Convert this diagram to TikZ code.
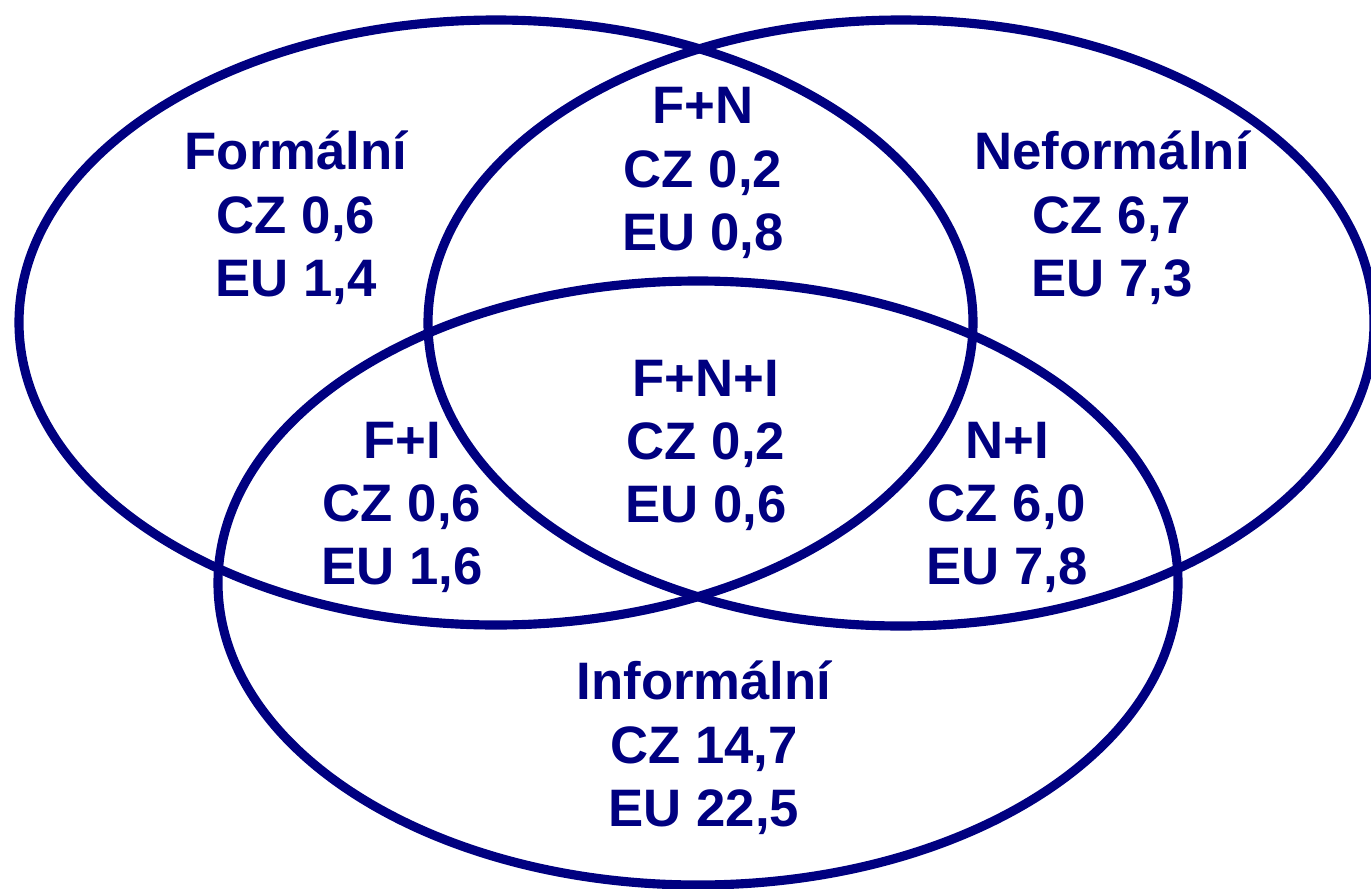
\documentclass[tikz,border=0pt]{standalone}
\usepackage{fontspec}
\setmainfont{Liberation Sans}
\usepackage{tikz}
\definecolor{setnavy}{RGB}{0,0,128}
\tikzset{
  setring/.style={draw=setnavy,line width=2.6pt},
  setlabel/.style={text=setnavy,align=center,inner sep=0pt,
    font=\bfseries\fontsize{15pt}{18pt}\selectfont}
}

\begin{document}
\begin{tikzpicture}
\useasboundingbox (0,0) rectangle (13.71,-8.89);
\draw[setring] (4.96,-3.225) ellipse [x radius=4.77,y radius=3.025];
\draw[setring] (9.01,-3.23) ellipse [x radius=4.73,y radius=3.03];
\draw[setring] (6.98,-5.83) ellipse [x radius=4.80,y radius=3.02];
\node[setlabel] (formal) at (2.96,-2.18) {Formální\\CZ 0,6\\EU 1,4};
\node[setlabel] (fn) at (7.03,-1.73) {F+N\\CZ 0,2\\EU 0,8};
\node[setlabel] (neformal) at (11.12,-2.18) {Neformální\\CZ 6,7\\EU 7,3};
\node[setlabel] (fni) at (7.06,-4.455) {F+N+I\\CZ 0,2\\EU 0,6};
\node[setlabel] (fi) at (4.02,-5.075) {F+I\\CZ 0,6\\EU 1,6};
\node[setlabel] (ni) at (10.07,-5.075) {N+I\\CZ 6,0\\EU 7,8};
\node[setlabel] (informal) at (7.04,-7.48) {Informální\\CZ 14,7\\EU 22,5};
\end{tikzpicture}
\end{document}
